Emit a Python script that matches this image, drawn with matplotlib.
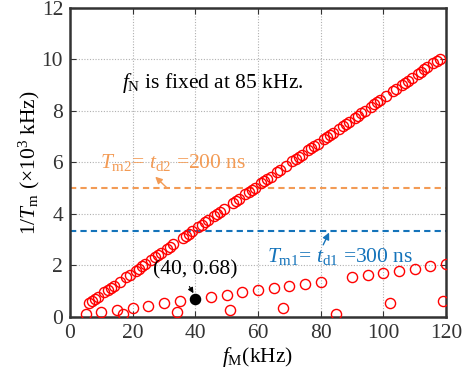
import matplotlib
matplotlib.use("Agg")
import matplotlib.pyplot as plt

plt.rcParams['font.family'] = ['Liberation Serif', 'DejaVu Serif']
plt.rcParams['mathtext.fontset'] = 'custom'
plt.rcParams['mathtext.rm'] = 'Liberation Serif'
plt.rcParams['mathtext.it'] = 'Liberation Serif:italic'
plt.rcParams['mathtext.bf'] = 'Liberation Serif:bold'

# upper branch (f_M coprime with f_N)
upper_x = [6, 7, 8, 9, 11, 12, 13, 14, 16, 18, 19, 21, 22, 23, 24, 26, 27, 28, 29, 31,
           32, 33, 36, 37, 38, 39, 41, 42, 43, 44, 46, 47, 48, 49, 52, 53, 54, 56, 57, 58,
           59, 61, 62, 63, 64, 66, 67, 69, 71, 72, 73, 74, 76, 77, 78, 79, 81, 82, 83, 84,
           86, 87, 88, 89, 91, 92, 93, 94, 96, 97, 98, 99, 101, 103, 104, 106, 107, 108, 109, 111,
           112, 113, 114, 116, 117, 118]
upper_y = [0.51, 0.60, 0.68, 0.77, 0.94, 1.02, 1.11, 1.19, 1.36, 1.53, 1.62, 1.79, 1.87, 1.96, 2.04, 2.21, 2.30, 2.38, 2.47, 2.64,
           2.72, 2.81, 3.06, 3.15, 3.23, 3.32, 3.49, 3.57, 3.66, 3.74, 3.91, 4.00, 4.08, 4.17, 4.42, 4.51, 4.59, 4.76, 4.85, 4.93,
           5.02, 5.19, 5.27, 5.36, 5.44, 5.61, 5.70, 5.87, 6.04, 6.12, 6.21, 6.29, 6.46, 6.55, 6.63, 6.72, 6.89, 6.97, 7.06, 7.14,
           7.31, 7.40, 7.48, 7.57, 7.74, 7.82, 7.91, 7.99, 8.16, 8.25, 8.33, 8.42, 8.59, 8.76, 8.84, 9.01, 9.10, 9.18, 9.27, 9.44,
           9.52, 9.61, 9.69, 9.86, 9.95, 10.03]

# lower branch
lower_x = [5, 10, 15, 17, 20, 25, 30, 34, 35, 45, 50, 51, 55, 60, 65, 68, 70, 75, 80, 85,
           90, 95, 100, 102, 105, 110, 115, 119, 120]
lower_y = [0.09, 0.17, 0.26, 0.09, 0.34, 0.43, 0.51, 0.17, 0.60, 0.77, 0.85, 0.26, 0.94, 1.02, 1.11, 0.34, 1.19, 1.28, 1.36, 0.09,
           1.53, 1.62, 1.70, 0.51, 1.79, 1.87, 1.96, 0.60, 2.04]

highlight_x = [40]
highlight_y = [0.68]

tm2_level = 5.0      # 1/200 ns
tm1_level = 3.33     # 1/300 ns

xticks = [0, 20, 40, 60, 80, 100, 120]
yticks = [0, 2, 4, 6, 8, 10, 12]

orange = '#F39B55'
blue = '#1473BA'
FS = 15.5

fig = plt.figure(figsize=(4.68, 3.70), dpi=100)
ax = fig.add_axes([0.1496, 0.1443, 0.8034, 0.834])

ax.grid(True, color='#b0b0b0', linestyle=(0, (1, 1.5)), linewidth=0.8)
ax.set_axisbelow(True)

ax.axhline(tm2_level, color=orange, linestyle=(0, (3, 2)), linewidth=1.5, zorder=2)
ax.axhline(tm1_level, color=blue, linestyle=(0, (3, 2)), linewidth=1.5, zorder=2)

ax.plot(upper_x, upper_y, 'o', mfc='none', mec='red', ms=7.3, mew=1.0, zorder=3)
ax.plot(lower_x, lower_y, 'o', mfc='none', mec='red', ms=7.3, mew=1.0, zorder=3)
ax.plot(highlight_x, highlight_y, 'o', mfc='black', mec='black', ms=7.3, zorder=4)

ax.set_xlim(0, 120)
ax.set_ylim(0, 12)
ax.set_xticks(xticks)
ax.set_yticks(yticks)
ax.tick_params(direction='in', length=4, width=0.8, labelsize=FS, colors='#333333',
               top=True, right=True, pad=5)
for s in ax.spines.values():
    s.set_linewidth(1.8)
    s.set_color('#333333')

ax.set_xlabel(r'$f_{\mathrm{M}}$(kHz)', fontsize=FS, labelpad=2)
ax.set_ylabel(r'1/$T_{\mathrm{m}}$ ($\times$10$^{3}$ kHz)', fontsize=FS, labelpad=0)

ax.text(16.5, 9.1, r'$f_{\mathrm{N}}$ is fixed at 85 kHz.', fontsize=FS, va='center', ha='left')

ax.text(9.6, 6.0, r'$T_{\mathrm{m2}}$= $t_{\mathrm{d2}}$ =200 ns', fontsize=FS, color=orange,
        va='center', ha='left')
ax.annotate('', xy=(27.2, 5.44), xytext=(31.0, 5.0),
            arrowprops=dict(arrowstyle='-|>', color=orange, lw=1.0, mutation_scale=10,
                            shrinkA=0, shrinkB=0))

ax.text(62.9, 2.33, r'$T_{\mathrm{m1}}$= $t_{\mathrm{d1}}$ =300 ns', fontsize=FS, color=blue,
        va='center', ha='left')
ax.annotate('', xy=(82.7, 3.27), xytext=(80.8, 2.79),
            arrowprops=dict(arrowstyle='-|>', color=blue, lw=1.0, mutation_scale=10,
                            shrinkA=0, shrinkB=0))

ax.text(40, 1.81, '(40, 0.68)', fontsize=FS, va='center', ha='center')
ax.annotate('', xy=(39.4, 0.91), xytext=(38.1, 1.17),
            arrowprops=dict(arrowstyle='-|>', color='black', lw=0.8, mutation_scale=8,
                            shrinkA=0, shrinkB=0))

fig.savefig('out.png', dpi=100)
